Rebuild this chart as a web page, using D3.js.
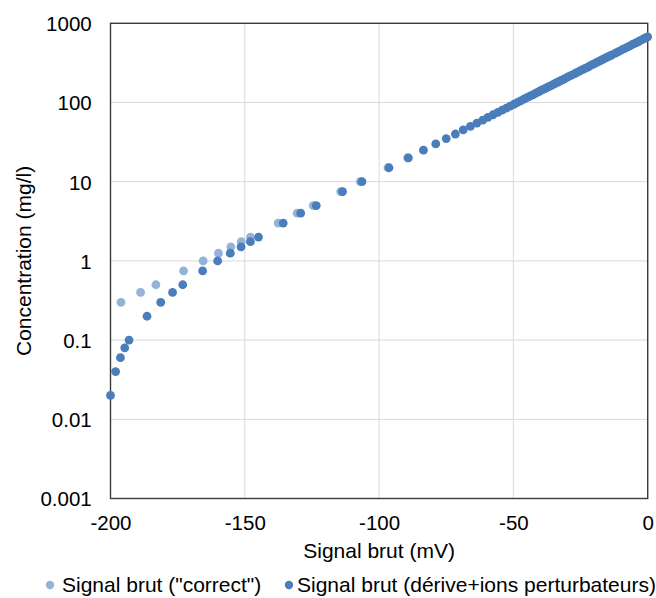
<!DOCTYPE html>
<html>
<head>
<meta charset="utf-8">
<script src="https://cdn.jsdelivr.net/npm/d3@7"></script>
<style>
  html, body { margin: 0; padding: 0; background: #ffffff; }
  svg { display: block; font-family: "Liberation Sans", Arial, sans-serif; }
</style>
</head>
<body>
<svg id="chart" width="656" height="598"></svg>
<script>
// ---- Data ----
const seriesNames = ['Signal brut ("correct")', 'Signal brut (dérive+ions perturbateurs)'];

// Series 1 : Signal brut ("correct")  — signal (mV) and concentration (mg/l)
const correctSignal = [-196.1, -188.8, -183.1, -172.8, -165.5, -159.8, -155.2, -151.3, -147.9, -137.6, -130.5, -124.5, -114.3, -107.0, -96.7, -89.4];
const correctConc   = [0.3, 0.4, 0.5, 0.75, 1, 1.25, 1.5, 1.75, 2, 3, 4, 5, 7.5, 10, 15, 20];

// Series 2 : Signal brut (dérive+ions perturbateurs)
const driftSignal = [
  -200.0, -198.1, -196.3, -194.7, -193.1, -186.4, -181.3, -176.9, -173.1, -165.7,
  -160.1, -155.4, -151.4, -147.9, -144.9, -135.7, -129.2, -123.4, -113.6, -106.4,
  -96.3, -89.1, -83.5, -78.9, -75.0, -71.6, -68.7, -66.0, -63.6, -61.4,
  -59.5, -57.6, -55.8, -54.2, -52.6, -51.2, -49.8, -48.5, -47.3, -46.1,
  -45.0, -43.9, -42.8, -41.8, -40.9, -40.0, -39.1, -38.2, -37.4, -36.6,
  -35.8, -35.0, -34.3, -33.6, -32.9, -32.2, -31.5, -30.9, -29.7, -28.5,
  -27.3, -26.3, -25.2, -24.2, -23.3, -22.3, -21.5, -20.6, -19.8, -19.0,
  -18.2, -17.4, -16.7, -16.0, -15.3, -14.6, -13.9, -13.3, -12.0, -10.9,
  -9.7, -8.7, -7.6, -6.6, -5.7, -4.7, -3.8, -3.0, -2.1, -1.3,
  -0.6, 0.0
];
const driftConc = [
  0.02, 0.04, 0.06, 0.08, 0.1, 0.2, 0.3, 0.4, 0.5, 0.75,
  1, 1.25, 1.5, 1.75, 2, 3, 4, 5, 7.5, 10,
  15, 20, 25, 30, 35, 40, 45, 50, 55, 60,
  65, 70, 75, 80, 85, 90, 95, 100, 105, 110,
  115, 120, 125, 130, 135, 140, 145, 150, 155, 160,
  165, 170, 175, 180, 185, 190, 195, 200, 210, 220,
  230, 240, 250, 260, 270, 280, 290, 300, 310, 320,
  330, 340, 350, 360, 370, 380, 390, 400, 420, 440,
  460, 480, 500, 520, 540, 560, 580, 600, 620, 640,
  660, 675
];

const xTicks = [-200, -150, -100, -50, 0];
const yTicks = [0.001, 0.01, 0.1, 1, 10, 100, 1000];
const yTickLabels = ["0.001", "0.01", "0.1", "1", "10", "100", "1000"];
const xTitle = "Signal brut (mV)";
const yTitle = "Concentration (mg/l)";

// ---- Layout ----
const colors = ["#95b3d7", "#4a7ebb"];
const plot = { left: 110.5, right: 647.7, top: 23.3, bottom: 498.5 };
const fontSize = 20.5;
const titleSize = 21;

const svg = d3.select("#chart");

const x = d3.scaleLinear().domain([-200, 0]).range([plot.left, plot.right]);
const y = d3.scaleLog().domain([0.001, 1000]).range([plot.bottom, plot.top]);

// Gridlines
const grid = svg.append("g");
grid.selectAll("line.h").data(yTicks).enter().append("line")
  .attr("x1", plot.left).attr("x2", plot.right)
  .attr("y1", d => y(d)).attr("y2", d => y(d))
  .attr("stroke", "#d9d9d9").attr("stroke-width", 1);
grid.selectAll("line.v").data(xTicks).enter().append("line")
  .attr("y1", plot.top).attr("y2", plot.bottom)
  .attr("x1", d => x(d)).attr("x2", d => x(d))
  .attr("stroke", "#d9d9d9").attr("stroke-width", 1);

// Axes (labels only)
const xAxis = svg.append("g")
  .attr("transform", `translate(0,${plot.bottom})`)
  .call(d3.axisBottom(x).tickValues(xTicks).tickSize(0).tickPadding(17).tickFormat(d3.format("d")));
const yAxis = svg.append("g")
  .attr("transform", `translate(${plot.left},0)`)
  .call(d3.axisLeft(y).tickValues(yTicks).tickSize(0).tickPadding(18.8)
        .tickFormat((d, i) => yTickLabels[i]));
[xAxis, yAxis].forEach(a => {
  a.select(".domain").remove();
  a.selectAll("text").attr("font-size", fontSize).attr("fill", "#000")
    .attr("font-family", '"Liberation Sans", Arial, sans-serif');
});
yAxis.selectAll("text").attr("dy", "0.36em");
xAxis.selectAll("text").text(d => d === 0 ? "0" : d3.format("d")(d).replace("−", "-"));

// Plot border
svg.append("rect")
  .attr("x", plot.left).attr("y", plot.top)
  .attr("width", plot.right - plot.left).attr("height", plot.bottom - plot.top)
  .attr("fill", "none").attr("stroke", "#3a3a3a").attr("stroke-width", 1.4);

// Points
const r = 4.4;
const s1 = correctSignal.map((v, i) => ({ x: v, y: correctConc[i] }));
const s2 = driftSignal.map((v, i) => ({ x: v, y: driftConc[i] }));
svg.append("g").selectAll("circle").data(s1).enter().append("circle")
  .attr("cx", d => x(d.x)).attr("cy", d => y(d.y)).attr("r", r).attr("fill", colors[0]);
svg.append("g").selectAll("circle").data(s2).enter().append("circle")
  .attr("cx", d => x(d.x)).attr("cy", d => y(d.y)).attr("r", r).attr("fill", colors[1]);

// Axis titles
svg.append("text")
  .attr("x", (plot.left + plot.right) / 2).attr("y", 558)
  .attr("text-anchor", "middle").attr("font-size", titleSize).attr("fill", "#000")
  .text(xTitle);
svg.append("text")
  .attr("transform", `translate(31,${(plot.top + plot.bottom) / 2}) rotate(-90)`)
  .attr("text-anchor", "middle").attr("font-size", titleSize).attr("fill", "#000")
  .text(yTitle);

// Legend
const legendItems = [
  { name: seriesNames[0], color: colors[0], cx: 50, tx: 62 },
  { name: seriesNames[1], color: colors[1], cx: 289, tx: 297 }
];
const lg = svg.append("g");
legendItems.forEach(it => {
  lg.append("circle").attr("cx", it.cx).attr("cy", 585).attr("r", 4.2).attr("fill", it.color);
  lg.append("text").attr("x", it.tx).attr("y", 592)
    .attr("font-size", titleSize).attr("fill", "#000").text(it.name);
});
</script>
</body>
</html>
